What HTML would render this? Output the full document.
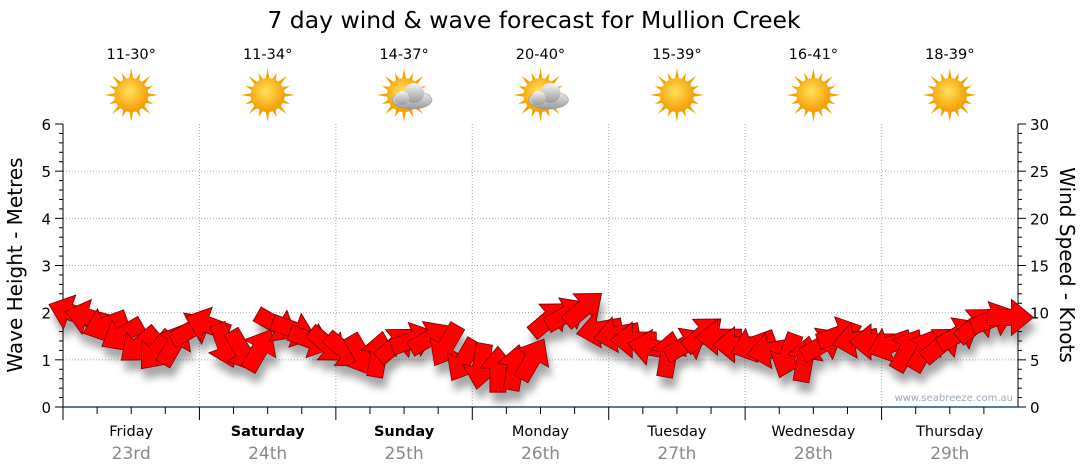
<!DOCTYPE html>
<html><head><meta charset="utf-8"><style>
body{margin:0;background:#fff;font-family:"DejaVu Sans","Liberation Sans",sans-serif;}
svg{display:block;font-family:"DejaVu Sans","Liberation Sans",sans-serif;}
</style></head><body>
<svg id="chart" width="1080" height="475">
<defs>
<filter id="sh" x="-30%" y="-30%" width="160%" height="180%"><feGaussianBlur in="SourceAlpha" stdDeviation="4"/><feOffset dx="3" dy="10"/><feComponentTransfer><feFuncA type="linear" slope="0.35"/></feComponentTransfer><feMerge><feMergeNode/><feMergeNode in="SourceGraphic"/></feMerge></filter>
<radialGradient id="sun" cx="45%" cy="40%" r="60%"><stop offset="0" stop-color="#ffe25a"/><stop offset="1" stop-color="#f59a00"/></radialGradient>
<linearGradient id="cloud" x1="0" y1="0" x2="0" y2="1"><stop offset="0" stop-color="#f4f4f4"/><stop offset="1" stop-color="#9a9a9a"/></linearGradient>
</defs>
<text x="534" y="28" text-anchor="middle" font-size="23.5" fill="#000">7 day wind &amp; wave forecast for Mullion Creek</text>
<g id="grid"></g><g id="axes"></g><g id="icons"></g><g id="arrows" filter="url(#sh)"></g>
<text x="1013" y="401" text-anchor="end" font-size="10" fill="#9aa8b8">www.seabreeze.com.au</text>
<text transform="translate(22,265) rotate(-90)" text-anchor="middle" font-size="20">Wave Height - Metres</text>
<text transform="translate(1060,265) rotate(90)" text-anchor="middle" font-size="20">Wind Speed - Knots</text>
</svg>
<script>
const days=["Friday","Saturday","Sunday","Monday","Tuesday","Wednesday","Thursday"];
const dates=["23rd","24th","25th","26th","27th","28th","29th"];
const boldDays=[false,true,true,false,false,false,false];
const temps=["11-30°","11-34°","14-37°","20-40°","15-39°","16-41°","18-39°"];
const cloudy=[false,false,true,true,false,false,false];
const waveTicks=[0,1,2,3,4,5,6];
const windTicks=[0,5,10,15,20,25,30];
// 3-hourly wind speed (knots)
const windSpeed=[10.0,9.5,8.7,7.7,6.6,6.0,6.6,8.2,
 8.7,6.6,6.0,6.0,8.7,8.2,7.1,6.6,
 6.0,5.5,5.5,6.6,7.1,7.3,6.6,5.0,
 4.4,3.9,4.1,5.0,9.3,9.8,10.4,8.2,
 7.7,7.1,6.3,5.5,6.6,7.7,7.4,6.6,
 6.6,6.0,5.5,5.0,6.6,7.7,7.1,6.9,
 6.6,6.0,6.0,6.6,7.7,8.7,9.3,9.5];
// direction arrow points toward, screen degrees (0=right, 90=down, -90=up)
const windDir=[200,195,160,150,140,130,-60,-30,
 200,70,60,-60,30,20,20,40,
 40,60,-80,-40,-20,-30,120,120,
 100,-90,-80,-60,-40,-30,-40,170,
 170,180,190,-80,-30,-40,180,180,
 160,170,110,-80,-30,-20,170,180,
 160,-60,-60,-40,-30,-40,-20,0];
const NS="http://www.w3.org/2000/svg";
const X0=63,X1=1018,Y0=407,Y1=124;
const dayW=(X1-X0)/7;
function xIdx(i){return X0+i*dayW/8+dayW/16;}
function yWave(m){return Y0-m*(Y0-Y1)/6;}
function yWind(k){return Y0-k*(Y0-Y1)/30;}
function el(t,a,p){const e=document.createElementNS(NS,t);for(const k in a)e.setAttribute(k,a[k]);p.appendChild(e);return e;}
const grid=document.getElementById('grid'),axes=document.getElementById('axes'),icons=document.getElementById('icons'),arrows=document.getElementById('arrows');
waveTicks.forEach(v=>{const y=yWave(v);
 if(v>0&&v<6){const g=el('line',{x1:X0,x2:X1,y1:y,y2:y,stroke:'#aaa','stroke-dasharray':'1,2'},grid);
 
 }
 const t=el('text',{x:X0-12,y:y+6,'text-anchor':'end','font-size':15},axes);t.textContent=v;
 
 
 el('line',{x1:X0-8,x2:X0,y1:y,y2:y,stroke:'#000'},axes);
 if(v<6)for(let j=1;j<5;j++){const yy=yWave(v+j*0.2);el('line',{x1:X0-4,x2:X0,y1:yy,y2:yy,stroke:'#000'},axes);}
});
windTicks.forEach(v=>{const y=yWind(v);
 const t=el('text',{x:X1+12,y:y+6,'font-size':15},axes);t.textContent=v;
 
 
 el('line',{x1:X1,x2:X1+8,y1:y,y2:y,stroke:'#000'},axes);
 if(v<30)for(let j=1;j<5;j++){const yy=yWind(v+j);el('line',{x1:X1,x2:X1+4,y1:yy,y2:yy,stroke:'#000'},axes);}
});
el('line',{x1:X0,x2:X0,y1:Y1,y2:Y0,stroke:'#000'},axes);
el('line',{x1:X1,x2:X1,y1:Y1,y2:Y0,stroke:'#000'},axes);
el('line',{x1:X0,x2:X1,y1:Y0,y2:Y0,stroke:'#1f4e79','stroke-width':1.5},axes);
days.forEach((d,i)=>{const xs=X0+i*dayW,xc=xs+dayW/2;
 if(i>0){const g=el('line',{x1:xs,x2:xs,y1:Y1,y2:Y0,stroke:'#aaa','stroke-dasharray':'1,2'},grid);
 
 }
 for(let j=0;j<4;j++){const tx=xs+j*dayW/4;el('line',{x1:tx,x2:tx,y1:Y0,y2:Y0+(j==0?13:7),stroke:'#000'},axes);}
 const t1=el('text',{x:xc,y:436,'text-anchor':'middle','font-size':14.5,'font-weight':boldDays[i]?'bold':'normal'},axes);t1.textContent=d;
 
 
 const t2=el('text',{x:xc,y:459,'text-anchor':'middle','font-size':17,fill:'#888'},axes);t2.textContent=dates[i];
 
 
 const t3=el('text',{x:xc,y:59,'text-anchor':'middle','font-size':14.5},icons);t3.textContent=temps[i];
 
 
 const g=el('g',{transform:`translate(${xc},95)`},icons);
 
 
 for(let r=0;r<16;r++){const a=r*Math.PI/8,l=r%2?24:27;el('polygon',{points:`${Math.cos(a-0.12)*16},${Math.sin(a-0.12)*16} ${Math.cos(a)*l},${Math.sin(a)*l} ${Math.cos(a+0.12)*16},${Math.sin(a+0.12)*16}`,fill:'#f2a300'},g);}
 el('circle',{r:17,fill:'url(#sun)'},g);
 if(cloudy[i]){el('ellipse',{cx:8,cy:5,rx:20,ry:9,fill:'url(#cloud)',stroke:'#888','stroke-width':0.5},g);el('circle',{cx:10,cy:-2,r:10,fill:'url(#cloud)'},g);el('circle',{cx:-2,cy:3,r:7,fill:'url(#cloud)'},g);}
});
windSpeed.forEach((v,i)=>{const x=xIdx(i),y=yWind(v),a=windDir[i];
 const p=el('polygon',{points:'-22,-8 2,-8 2,-18 24,0 2,18 2,8 -22,8',fill:'#ff0000',stroke:'#700','stroke-width':0.8,transform:`translate(${x},${y}) rotate(${a})`},arrows);
 
 
});
</script>
</body></html>
